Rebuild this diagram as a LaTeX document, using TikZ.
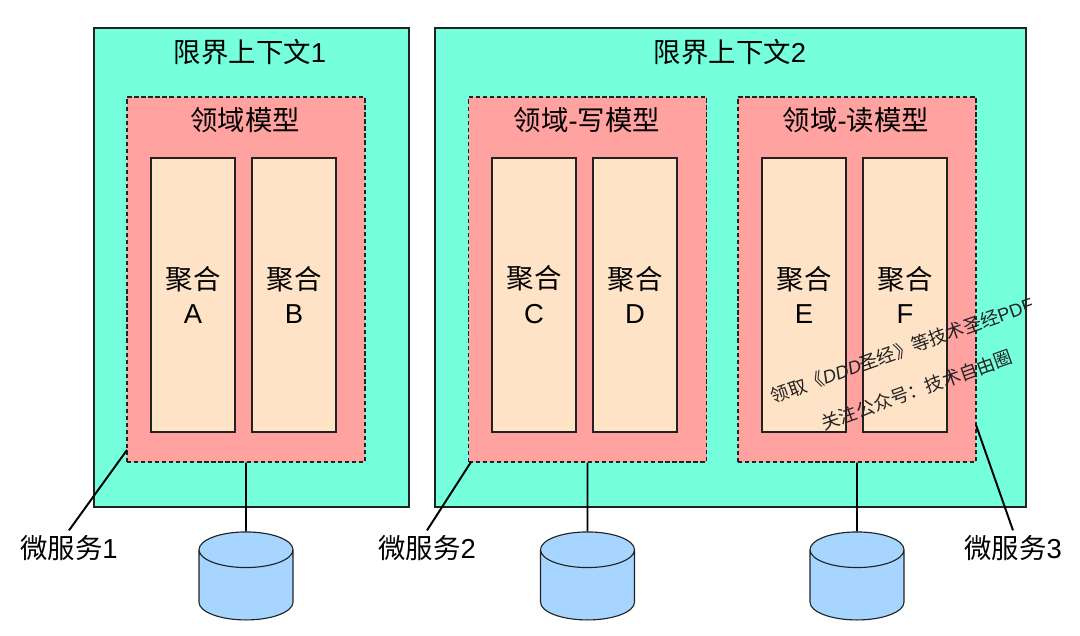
\documentclass[tikz,border=0pt]{standalone}
\usepackage{fontspec}
\setmainfont{Liberation Sans}
\newfontfamily\cjk{Noto Sans CJK SC}
\usetikzlibrary{shapes.geometric}
\definecolor{ContextFill}{HTML}{75FFDC}
\definecolor{ModelFill}{HTML}{FFA2A0}
\definecolor{AggregateFill}{HTML}{FFE3C6}
\definecolor{StoreFill}{HTML}{A6D5FF}
\definecolor{LineDark}{HTML}{222222}

\begin{document}
\begin{tikzpicture}[
        context/.style={draw=LineDark, fill=ContextFill, line width=0.8pt, minimum height=11.975cm},
        model/.style={draw=LineDark, fill=ModelFill, dash pattern=on 3pt off 2pt, line width=0.8pt, minimum width=5.95cm, minimum height=9.125cm},
        aggregate/.style={draw=LineDark, fill=AggregateFill, line width=0.8pt, minimum width=2.1cm, minimum height=6.85cm, align=center, font=\fontsize{19.5}{24.8}\selectfont},
        store/.style={shape=cylinder, shape border rotate=90, aspect=3.8, draw=LineDark, fill=StoreFill, line width=0.8pt, minimum width=2.35cm, minimum height=2.2cm},
        lbl/.style={font=\fontsize{19.5}{24}\selectfont, text=black},
        mark text/.style={font=\fontsize{13}{15}\selectfont, text=LineDark, rotate=19.7},
        link/.style={draw=black, line width=1.4pt}
    ]
        \useasboundingbox (0, 0) rectangle (27, 15.875);

        % Bounded contexts
        \node[context, minimum width=7.875cm] (ctxA) at (6.2875, 9.1875) {};
        \node[context, minimum width=14.775cm] (ctxB) at (18.2625, 9.1875) {};
        \node[lbl] (ctxAtitle) at (6.25, 14.575) {{\cjk 限界上下文}1};
        \node[lbl] (ctxBtitle) at (18.25, 14.575) {{\cjk 限界上下文}2};

        % Domain models
        \node[model] (modelA) at (6.15, 8.8875) {};
        \node[model] (modelB) at (14.6875, 8.8875) {};
        \node[model] (modelC) at (21.425, 8.8875) {};
        \node[lbl] (modelAtitle) at (6.125, 12.875) {\cjk 领域模型};
        \node[lbl] (modelBtitle) at (14.675, 12.875) {{\cjk 领域}-{\cjk 写模型}};
        \node[lbl] (modelCtitle) at (21.4, 12.875) {{\cjk 领域}-{\cjk 读模型}};

        % Aggregates
        \node[aggregate] (aggA) at (4.825, 8.5) {{\cjk 聚合}\\A};
        \node[aggregate] (aggB) at (7.35, 8.5) {{\cjk 聚合}\\B};
        \node[aggregate] (aggC) at (13.35, 8.5) {{\cjk 聚合}\\C};
        \node[aggregate] (aggD) at (15.875, 8.5) {{\cjk 聚合}\\D};
        \node[aggregate] (aggE) at (20.1, 8.5) {{\cjk 聚合}\\E};
        \node[aggregate] (aggF) at (22.625, 8.5) {{\cjk 聚合}\\F};

        % Databases
        \node[store] (dbA) at (6.15, 1.15) {};
        \node[store] (dbB) at (14.6875, 1.15) {};
        \node[store] (dbC) at (21.425, 1.15) {};

        % Service labels
        \node[lbl] (svcA) at (1.725, 2.175) {{\cjk 微服务}1};
        \node[lbl] (svcB) at (10.675, 2.175) {{\cjk 微服务}2};
        \node[lbl] (svcC) at (25.325, 2.175) {{\cjk 微服务}3};
        \coordinate (tapA) at (3.175, 4.625);
        \coordinate (tapB) at (11.775, 4.325);
        \coordinate (tapC) at (24.4, 5.25);

        % Connections
        \draw[link] (modelA) -- (dbA);
        \draw[link] (modelB) -- (dbB);
        \draw[link] (modelC) -- (dbC);
        \draw[link] (tapA) -- (svcA.north);
        \draw[link] (tapB) -- (svcB.north);
        \draw[link] (tapC) -- (svcC.north);

        % Overprint
        \node[mark text] (markA) at (22.55, 7.125) {{\cjk 领取《}\textit{DDD}{\cjk 圣经》等技术圣经}PDF};
        \node[mark text] (markB) at (22.925, 6.125) {\cjk 关注公众号：技术自由圈};
    \end{tikzpicture}
\end{document}
